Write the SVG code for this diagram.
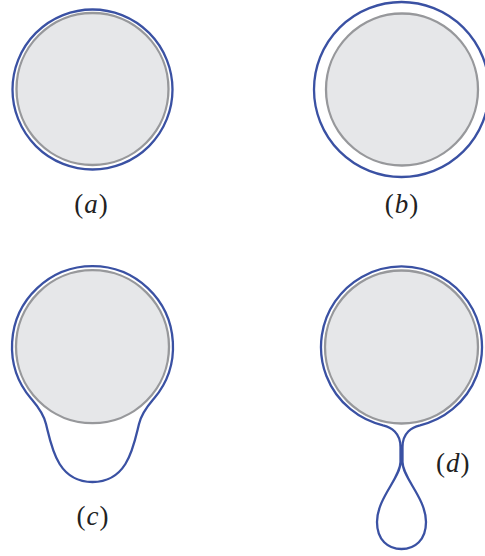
<svg xmlns="http://www.w3.org/2000/svg" width="485" height="556" viewBox="0 0 485 556">
<style>
.core{fill:#e6e7e9;stroke:#97989b;stroke-width:2.3}
.film{fill:none;stroke:#3a51a3;stroke-width:2.3;stroke-linejoin:round}
.lbl{font-family:"Liberation Serif","Times New Roman",serif;font-size:27px;fill:#222;text-anchor:middle;letter-spacing:1px}
.it{font-style:italic}
</style>
<rect width="485" height="556" fill="#fff"/>
<g id="a">
<circle class="core" cx="92.5" cy="89" r="76"/>
<circle class="film" cx="92.5" cy="89.5" r="80"/>
<text class="lbl" x="91.5" y="213">(<tspan class="it">a</tspan>)</text>
</g>
<g id="b">
<circle class="core" cx="402" cy="89.5" r="76"/>
<circle class="film" cx="401.5" cy="89.5" r="87.5"/>
<text class="lbl" x="402" y="213">(<tspan class="it">b</tspan>)</text>
</g>
<g id="c">
<circle class="core" cx="92.5" cy="346.7" r="76.5"/>
<path class="film" d="M31,398.6 C36.2,404.7 43,412 46,424 C51.5,446 57,482 92.5,482 C128,482 133.5,446 139,424 C142,412 148.8,404.7 154,398.6 A80.5 80.5 0 1 0 31,398.6 Z"/>
<text class="lbl" x="93" y="525">(<tspan class="it">c</tspan>)</text>
</g>
<g id="d">
<circle class="core" cx="401.5" cy="347" r="76.5"/>
<path class="film" d="M383,425.3 C391,427 400.5,433 400.5,447 L400.5,462 C400.5,478 377,498 377,522 C377,540 388,549 401.5,549 C415,549 426,540 426,522 C426,498 402.5,478 402.5,462 L402.5,447 C402.5,433 412,427 420,425.3 A80.5 80.5 0 1 0 383,425.3 Z"/>
<text class="lbl" x="453.3" y="471.5">(<tspan class="it">d</tspan>)</text>
</g>
</svg>
